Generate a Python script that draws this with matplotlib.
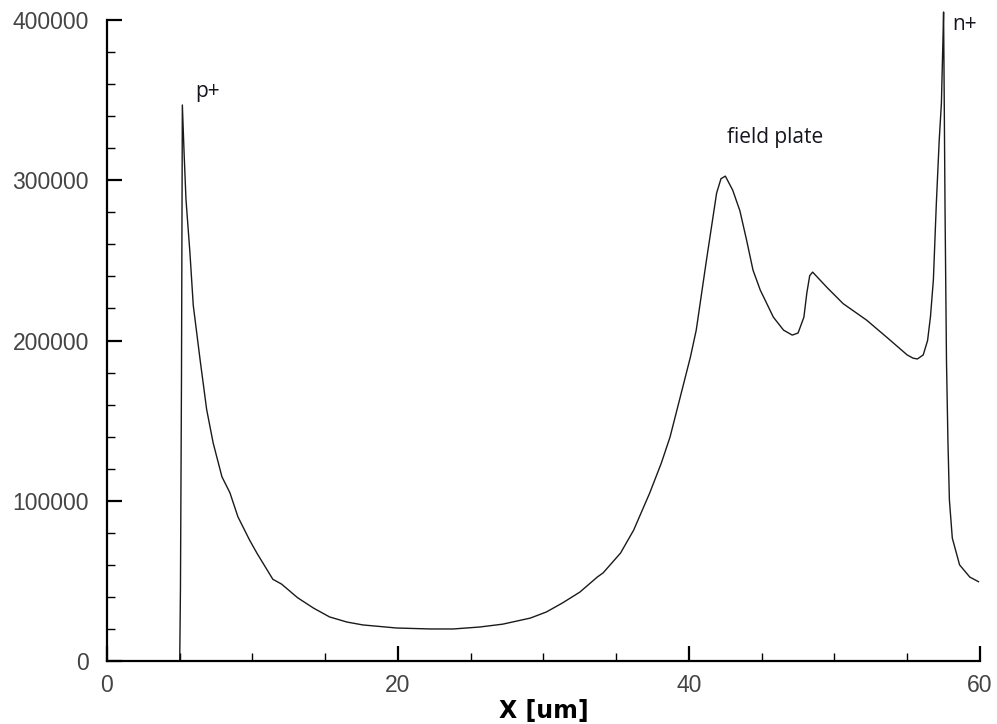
import matplotlib
matplotlib.use("Agg")
import matplotlib.pyplot as plt
from matplotlib.ticker import MultipleLocator

# electric field along the cut line
x_um = [5.0, 5.05, 5.12, 5.18, 5.3, 5.43, 5.7, 5.93, 6.4, 6.85, 7.3, 7.9, 8.45,
        9.0, 9.8, 10.3, 11.4, 12.0, 13.1, 14.2, 15.3, 16.5, 17.6, 19.9, 22.2,
        23.8, 25.6, 27.2, 29.1, 30.2, 31.3, 32.5, 33.7, 34.1, 35.3, 36.2, 37.3,
        38.1, 38.7, 39.4, 40.1, 40.5, 41.2, 41.9, 42.2, 42.5, 43.0, 43.5, 43.96,
        44.4, 44.9, 45.8, 46.5, 47.1, 47.5, 47.9, 48.1, 48.3, 48.5, 49.5, 50.6,
        52.2, 53.6, 55.0, 55.4, 55.7, 56.1, 56.4, 56.6, 56.8, 57.0, 57.2, 57.35,
        57.45, 57.5, 57.6, 57.7, 57.8, 57.9, 58.1, 58.6, 59.3, 59.9]
efield = [0, 45000, 175000, 347000, 317000, 288000, 255000, 222000, 188000,
          157000, 136000, 115000, 105000, 90000, 75500, 67400, 51000, 48000,
          39500, 33000, 27500, 24300, 22500, 20600, 20000, 20000, 21200, 23000,
          26800, 30600, 36200, 43000, 52400, 55000, 67400, 81700, 104800,
          123500, 139800, 164700, 189700, 206500, 250000, 292000, 301000,
          302600, 294000, 281000, 262700, 244000, 231500, 214600, 206500,
          203400, 204700, 214600, 229600, 240500, 242700, 233000, 223000,
          212800, 202000, 191000, 189000, 188500, 191000, 200000, 215000,
          238000, 285000, 325000, 348000, 385000, 405000, 282000, 187000,
          137000, 100500, 76700, 60000, 52400, 49500]

notes = ["p+", "field plate", "n+"]
note_x = [6.05, 42.6, 58.1]
note_y = [352000, 323000, 393700]

fig = plt.figure(figsize=(9.97, 7.24), dpi=100)
ax = fig.add_axes([0.1073, 0.087, 0.8756, 0.8853])

ax.plot(x_um, efield, color="#1a1a1a", lw=1.0, clip_on=False)

ax.set_xlim(0, 60)
ax.set_ylim(0, 400000)
ax.spines["top"].set_visible(False)
ax.spines["right"].set_visible(False)
for s in ("left", "bottom"):
    ax.spines[s].set_linewidth(1.6)

xt = [0, 20, 40, 60]
yt = [0, 100000, 200000, 300000, 400000]
ax.set_xticks(xt)
ax.set_xticklabels([str(v) for v in xt])
ax.set_yticks(yt)
ax.set_yticklabels([str(v) for v in yt])
ax.xaxis.set_minor_locator(MultipleLocator(5))
ax.yaxis.set_minor_locator(MultipleLocator(20000))

ax.tick_params(which="major", direction="in", length=11, width=1.6,
               labelsize=16.5, labelcolor="#444444")
ax.tick_params(which="minor", direction="in", length=6, width=1.0)
ax.tick_params(axis="x", pad=9)
ax.tick_params(axis="y", pad=13)
for lab in ax.get_xticklabels() + ax.get_yticklabels():
    lab.set_family("Liberation Sans")

ax.set_xlabel("X [um]", fontsize=17, fontweight="bold", labelpad=2)

for t, tx, ty in zip(notes, note_x, note_y):
    ax.text(tx, ty, t, fontsize=15, family="Open Sans", color="#151520",
            va="baseline", ha="left")

plt.savefig("out.png", dpi=100)
